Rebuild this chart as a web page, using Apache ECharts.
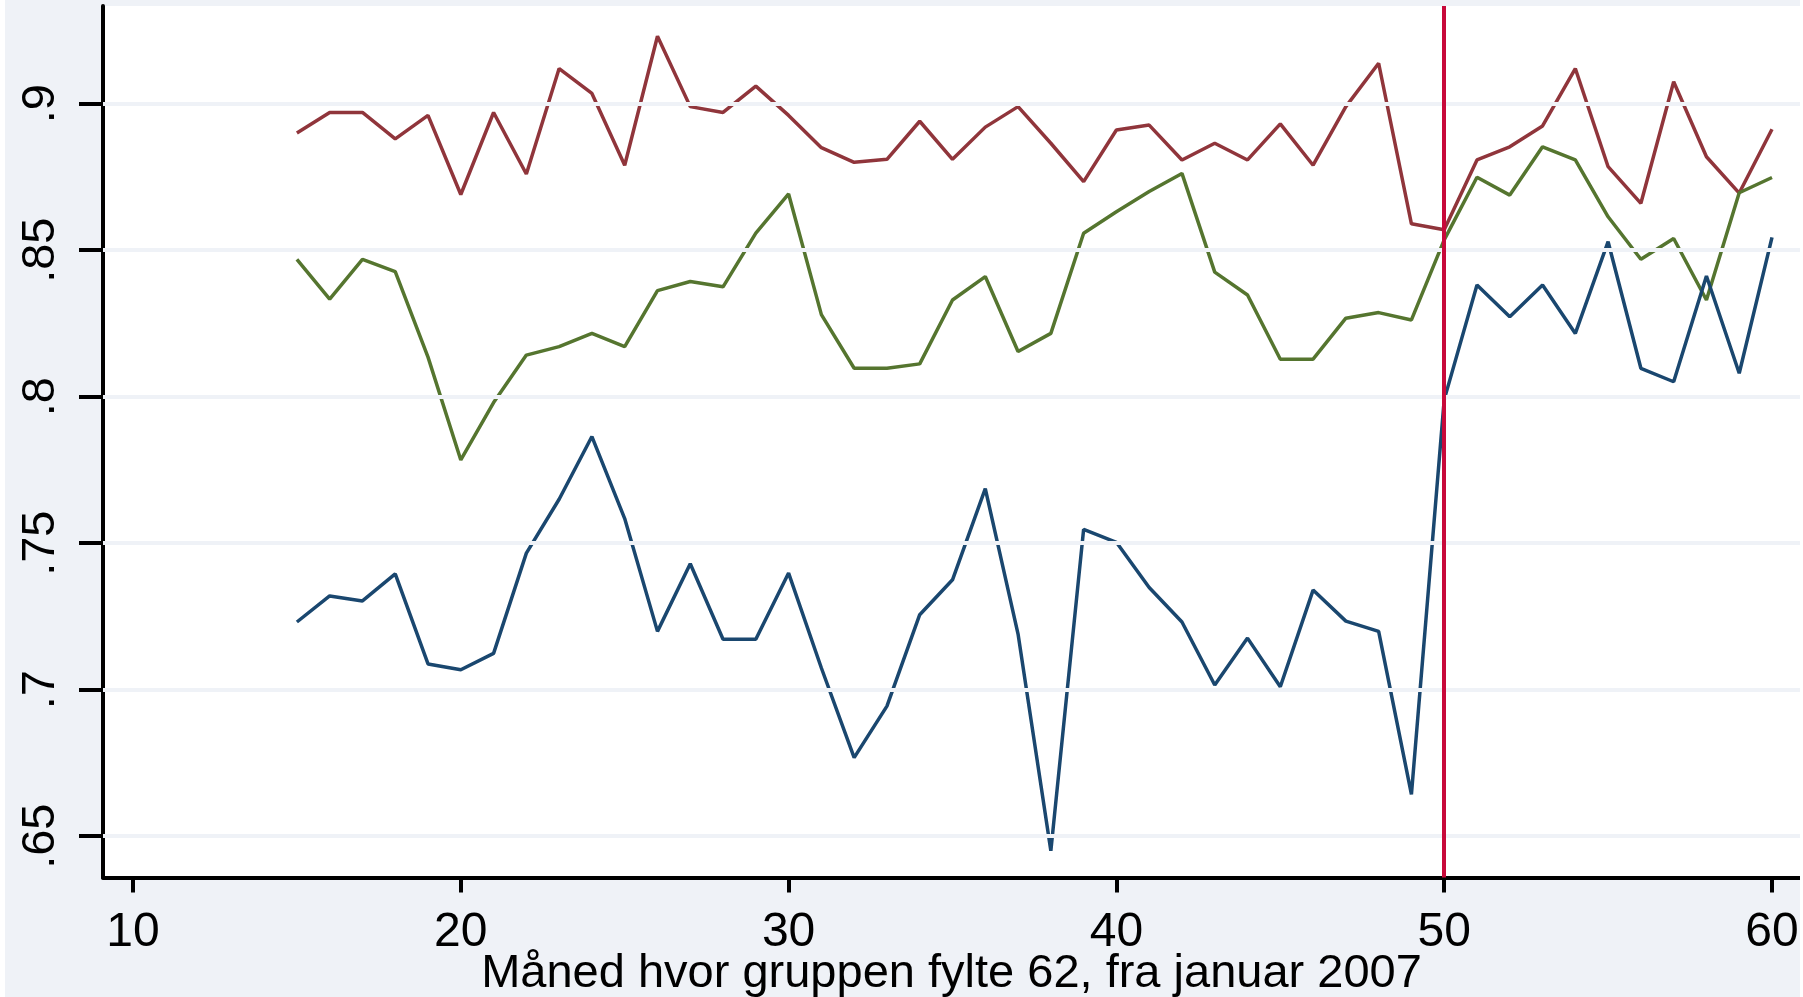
<!DOCTYPE html>
<html>
<head>
<meta charset="utf-8">
<script src="https://cdn.jsdelivr.net/npm/echarts@6/dist/echarts.min.js"></script>
<style>
html,body{margin:0;padding:0;background:#ffffff;overflow:hidden;}
#c{position:absolute;left:5px;top:0;width:1795px;height:997px;}
</style>
</head>
<body>
<div id="c"></div>
<script>
// ---- data ----
const months = [15,16,17,18,19,20,21,22,23,24,25,26,27,28,29,30,31,32,33,34,35,36,37,38,39,40,41,42,43,44,45,46,47,48,49,50,51,52,53,54,55,56,57,58,59,60];
const seriesMaroon = [0.890,0.897,0.897,0.888,0.896,0.869,0.897,0.876,0.912,0.9035,0.879,0.923,0.899,0.897,0.906,0.896,0.885,0.880,0.881,0.894,0.881,0.892,0.899,0.8865,0.8734,0.891,0.8927,0.8808,0.8865,0.8808,0.8931,0.879,0.899,0.9138,0.859,0.857,0.8808,0.8853,0.8924,0.912,0.8785,0.866,0.9075,0.8819,0.8695,0.8913];
const seriesGreen = [0.8469,0.8333,0.8469,0.8427,0.8135,0.7784,0.798,0.8142,0.8171,0.8216,0.8171,0.8362,0.8393,0.8375,0.8558,0.8692,0.828,0.8097,0.8097,0.8112,0.833,0.841,0.8154,0.8216,0.8558,0.8631,0.870,0.8762,0.8425,0.8347,0.8128,0.8128,0.8268,0.8287,0.8262,0.8535,0.8749,0.8688,0.8853,0.8808,0.8614,0.8469,0.854,0.833,0.8696,0.8748];
const seriesNavy = [0.7231,0.732,0.7303,0.7395,0.7088,0.7068,0.7124,0.7466,0.765,0.7864,0.7584,0.7199,0.743,0.7172,0.7172,0.7398,0.7074,0.6768,0.6944,0.7256,0.7375,0.7686,0.719,0.645,0.7547,0.7503,0.7349,0.7231,0.7016,0.7176,0.701,0.734,0.7234,0.7199,0.6643,0.799,0.8381,0.8273,0.8381,0.8216,0.8529,0.8097,0.8051,0.8412,0.808,0.8544];
const xTicks = [10,20,30,40,50,60];
const yTicks = [0.65,0.7,0.75,0.8,0.85,0.9];
const yTickLabels = ['.65','.7','.75','.8','.85','.9'];
const cutoffMonth = 50;
const xTitle = 'Måned hvor gruppen fylte 62, fra januar 2007';

// ---- chart ----
const FONT = "'Liberation Sans', Arial, sans-serif";
const BG = '#EFF2F7';
const pair = arr => months.map((m, i) => [m, arr[i]]);

const chart = echarts.init(document.getElementById('c'), null, {renderer: 'canvas', width: 1795, height: 997});
chart.setOption({
  backgroundColor: BG,
  animation: false,
  grid: {left: 98, right: 0, top: 6, bottom: 119.5, show: true, backgroundColor: '#ffffff', borderWidth: 0,
         containLabel: false, outerBoundsMode: 'none'},
  xAxis: {
    type: 'value', min: 9.085, max: 60.854,
    axisLine: {show: true, onZero: false, lineStyle: {color: '#000', width: 4}},
    axisTick: {show: true, customValues: xTicks, length: 15, lineStyle: {color: '#000', width: 4}},
    axisLabel: {show: true, customValues: xTicks, fontSize: 48, color: '#000', margin: 31, fontFamily: FONT},
    splitLine: {show: false},
    name: xTitle, nameLocation: 'middle', nameGap: 73, nameMoveOverlap: false,
    nameTextStyle: {fontSize: 47, color: '#000', fontFamily: FONT}
  },
  yAxis: {
    type: 'value', min: 0.6359, max: 0.93334,
    axisLine: {show: true, onZero: false, lineStyle: {color: '#000', width: 4}},
    axisTick: {show: true, customValues: yTicks, length: 24, lineStyle: {color: '#000', width: 4}},
    axisLabel: {
      show: true, customValues: yTicks, rotate: 90, fontSize: 47, color: '#000', margin: 38, fontFamily: FONT,
      formatter: v => {
        const i = yTicks.findIndex(t => Math.abs(t - v) < 1e-6);
        return i >= 0 ? yTickLabels[i] : '';
      }
    },
    splitLine: {show: false}
  },
  series: [
    {
      type: 'line', data: [], z: 1, silent: true, symbol: 'none',
      markLine: {
        silent: true, symbol: ['none', 'none'], label: {show: false}, animation: false,
        data: yTicks.map(v => ({yAxis: v, lineStyle: {color: BG, width: 4, type: 'solid'}}))
          .concat([{xAxis: cutoffMonth, lineStyle: {color: '#C8093A', width: 4, type: 'solid'}}])
      }
    },
    {type: 'line', data: pair(seriesMaroon), z: 3, symbol: 'none', lineStyle: {color: '#90353B', width: 3.5}, itemStyle: {color: '#90353B'}},
    {type: 'line', data: pair(seriesGreen), z: 3, symbol: 'none', lineStyle: {color: '#55752F', width: 3.5}, itemStyle: {color: '#55752F'}},
    {type: 'line', data: pair(seriesNavy), z: 3, symbol: 'none', lineStyle: {color: '#1A476F', width: 3.5}, itemStyle: {color: '#1A476F'}}
  ]
});
</script>
</body>
</html>
